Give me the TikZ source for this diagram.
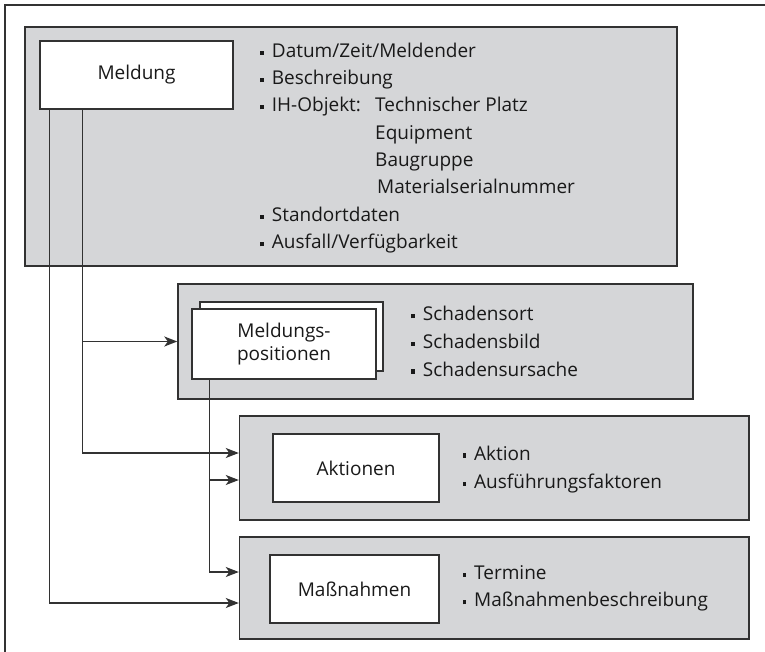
\documentclass[tikz,border=0pt]{standalone}
\usepackage{fontspec}
\setmainfont{Open Sans}
\usetikzlibrary{arrows.meta}
\definecolor{grpfill}{RGB}{213,214,216}
\definecolor{linec}{RGB}{50,50,50}
\definecolor{txtc}{RGB}{25,25,25}
\newcommand{\bul}{\makebox[11.7pt][l]{\rule[2.4pt]{3.8pt}{4.2pt}}}
\tikzset{
  every node/.style={font=\fontsize{19}{27.3}\selectfont, text=txtc},
  grp/.style={draw=linec, fill=grpfill, line width=1.4pt, inner sep=0pt},
  wbox/.style={draw=linec, fill=white, line width=1.4pt, inner sep=0pt},
  item/.style={anchor=base west, inner sep=0pt},
  arr/.style={draw=linec, line width=1.4pt, -{Stealth[length=13pt,width=10pt,inset=3.5pt]}},
  conn/.style={draw=linec, line width=1.2pt}
}
\begin{document}
\begin{tikzpicture}[x=1pt,y=-1pt]
\useasboundingbox (0,0) rectangle (765,652);
% outer frame (top and left only)
\coordinate (f1) at (5,652);
\coordinate (f2) at (5,5);
\coordinate (f3) at (765,5);
\draw[conn] (f1) -- (f2) -- (f3);

% group boxes
\node[grp, minimum width=652pt, minimum height=239pt] (g1) at (351,146.5) {};
\node[grp, minimum width=515pt, minimum height=115pt] (g2) at (435.5,341.5) {};
\node[grp, minimum width=509.5pt, minimum height=104pt] (g3) at (494.25,468) {};
\node[grp, minimum width=509.5pt, minimum height=102pt] (g4) at (494.25,588) {};

% white boxes
\node[wbox, minimum width=193pt, minimum height=68pt] (m) at (136.5,75) {Meldung};
\node[wbox, minimum width=183pt, minimum height=69pt] (pb) at (291.5,336.5) {};
\node[wbox, minimum width=184pt, minimum height=70pt, align=center,
      font=\fontsize{19}{23.7}\selectfont] (p) at (284,344) {Meldungs-\\positionen};
\node[wbox, minimum width=166pt, minimum height=68pt] (a) at (356,468) {Aktionen};
\node[wbox, minimum width=169pt, minimum height=68pt] (n) at (354.5,589) {Maßnahmen};

% Meldung list
\node[item] (t1) at (260,57.3) {\bul Datum/Zeit/Meldender};
\node[item] (t2) at (260,84.5) {\bul Beschreibung};
\node[item] (t3) at (260,111.8) {\bul IH-Objekt:};
\node[item] (t3a) at (375,111.8) {Technischer Platz};
\node[item] (t4) at (375,139.1) {Equipment};
\node[item] (t5) at (375,166.5) {Baugruppe};
\node[item] (t6) at (377,193.9) {Materialserialnummer};
\node[item] (t7) at (260,221.3) {\bul Standortdaten};
\node[item] (t8) at (260,248.7) {\bul Ausfall/Verfügbarkeit};

% Positionen list
\node[item] (s1) at (411,320.7) {\bul Schadensort};
\node[item] (s2) at (411,348.3) {\bul Schadensbild};
\node[item] (s3) at (411,376) {\bul Schadensursache};

% Aktionen list
\node[item] (a1) at (462.3,460) {\bul Aktion};
\node[item] (a2) at (462.3,488.3) {\bul Ausführungsfaktoren};

% Massnahmen list
\node[item] (n1) at (462.3,579.3) {\bul Termine};
\node[item] (n2) at (462.3,606.7) {\bul Maßnahmenbeschreibung};

% connectors
\draw[arr] ([xshift=10pt]m.south west) |- ([yshift=-15pt]g4.west);
\draw[arr] ([xshift=43pt]m.south west) |- (g2.west);
\draw[arr] ([xshift=43pt]m.south west) |- ([yshift=15pt]g3.west);
\draw[arr] ([xshift=18pt]p.south west) |- ([yshift=-12pt]g3.west);
\draw[arr] ([xshift=18pt]p.south west) |- ([yshift=16pt]g4.west);
\end{tikzpicture}
\end{document}
